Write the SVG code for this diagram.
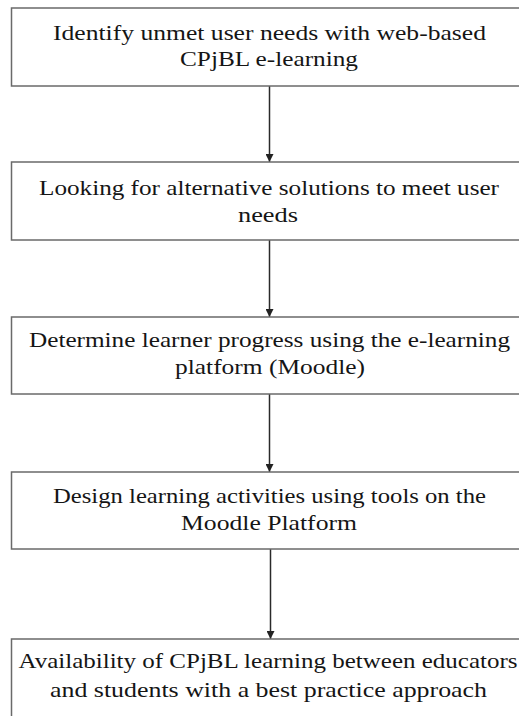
<svg xmlns="http://www.w3.org/2000/svg" width="519" height="716" viewBox="0 0 519 716">
  <defs>
    <marker id="arrowhead" viewBox="0 0 10 10" refX="10" refY="5" markerWidth="8" markerHeight="8" markerUnits="userSpaceOnUse" orient="auto">
      <path d="M0,0 L10,5 L0,10 Z" fill="#222"/>
    </marker>
  </defs>
  <style>
    .box { fill: #ffffff; stroke: #6a6a6a; stroke-width: 1.5; }
    .label { font-family: "Liberation Serif", "Times New Roman", serif; font-size: 22px; fill: #151515; text-anchor: middle; }
    .conn { stroke: #2a2a2a; stroke-width: 1.5; fill: none; marker-end: url(#arrowhead); }
  </style>
  <rect width="519" height="716" fill="#ffffff"/>

  <g id="connectors">
    <line class="conn" x1="269.5" y1="86" x2="269.5" y2="162"/>
    <line class="conn" x1="269.5" y1="240" x2="269.5" y2="317"/>
    <line class="conn" x1="269.5" y1="394" x2="269.5" y2="472"/>
    <line class="conn" x1="270.5" y1="549" x2="270.5" y2="639"/>
  </g>

  <g id="step1">
    <rect class="box" x="11.5" y="8" width="530" height="78"/>
    <text class="label" x="269.5" y="40" textLength="433" lengthAdjust="spacingAndGlyphs">Identify unmet user needs with web-based</text>
    <text class="label" x="269" y="66" textLength="178" lengthAdjust="spacingAndGlyphs">CPjBL e-learning</text>
  </g>

  <g id="step2">
    <rect class="box" x="11.5" y="162" width="530" height="78"/>
    <text class="label" x="269" y="195" textLength="460" lengthAdjust="spacingAndGlyphs">Looking for alternative solutions to meet user</text>
    <text class="label" x="268" y="222" textLength="60" lengthAdjust="spacingAndGlyphs">needs</text>
  </g>

  <g id="step3">
    <rect class="box" x="11.5" y="317" width="530" height="77"/>
    <text class="label" x="269.5" y="347" textLength="481" lengthAdjust="spacingAndGlyphs">Determine learner progress using the e-learning</text>
    <text class="label" x="270" y="374" textLength="190" lengthAdjust="spacingAndGlyphs">platform (Moodle)</text>
  </g>

  <g id="step4">
    <rect class="box" x="11.5" y="472" width="530" height="77"/>
    <text class="label" x="269.5" y="503" textLength="433" lengthAdjust="spacingAndGlyphs">Design learning activities using tools on the</text>
    <text class="label" x="269" y="530" textLength="176" lengthAdjust="spacingAndGlyphs">Moodle Platform</text>
  </g>

  <g id="step5">
    <rect class="box" x="11.5" y="639" width="530" height="90"/>
    <text class="label" x="268" y="668" textLength="499" lengthAdjust="spacingAndGlyphs">Availability of CPjBL learning between educators</text>
    <text class="label" x="268.5" y="697" textLength="437" lengthAdjust="spacingAndGlyphs">and students with a best practice approach</text>
  </g>
</svg>
